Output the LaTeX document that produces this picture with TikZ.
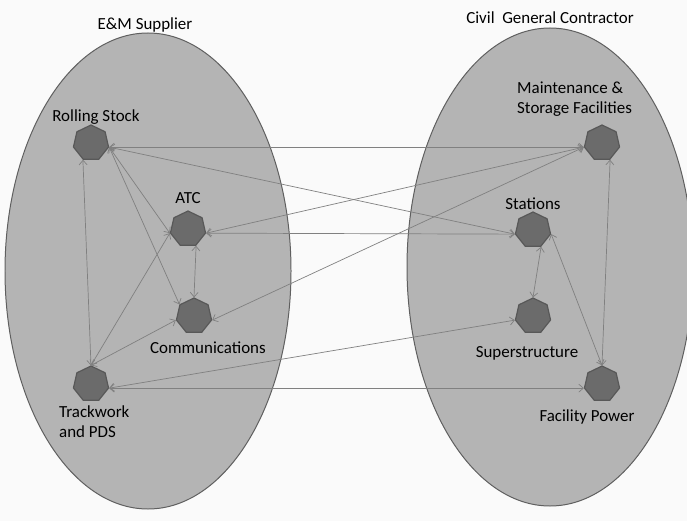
\documentclass[tikz,border=0pt]{standalone}
\usepackage{fontspec}
\setmainfont{Carlito}
\usetikzlibrary{shapes.geometric,arrows.meta}

\definecolor{groupfill}{RGB}{180,180,180}
\definecolor{groupline}{RGB}{95,95,95}
\definecolor{partfill}{RGB}{107,107,107}
\definecolor{partline}{RGB}{88,88,88}
\definecolor{linkline}{RGB}{128,128,128}

\tikzset{
  group/.style={ellipse,fill=groupfill,draw=groupline,line width=1pt},
  part/.style={regular polygon,regular polygon sides=7,minimum size=36bp,
    inner sep=0pt,fill=partfill,draw=partline,line width=1.2pt},
  txt/.style={font=\fontsize{17}{20}\selectfont,inner sep=0pt},
  link/.style={draw=linkline,line width=0.7pt,
    {Straight Barb[length=4.5bp,width=8bp]}-{Straight Barb[length=4.5bp,width=8bp]}}
}

\begin{document}
\begin{tikzpicture}[x=1bp,y=-1bp]
 \fill[white!98!black] (0,0) rectangle (687,521);
 \useasboundingbox (0,0) rectangle (687,521);

 \draw[group] (148,271) ellipse [x radius=143,y radius=238];
 \draw[group] (550,267) ellipse [x radius=143,y radius=239];

 \node[txt] (emsup) at (145,25) {E\&M Supplier};
 \node[txt] (civil) at (550,18) {Civil\ \ General Contractor};

 \node[part] (rs)   at (91,143)  {};
 \node[part] (atc)  at (188,229) {};
 \node[part] (comm) at (194,316) {};
 \node[part] (tw)   at (91,384)  {};
 \node[part] (msf)  at (602,143) {};
 \node[part] (sta)  at (533,230) {};
 \node[part] (sup)  at (533,316) {};
 \node[part] (fp)   at (602,384) {};

 \node[txt] (rslab)   at (96,117)  {Rolling Stock};
 \node[txt] (atclab)  at (188,198) {ATC};
 \node[txt] (commlab) at (208,348) {Communications};
 \node[txt,align=left,anchor=west] (twlab) at (59,422) {Trackwork\\and PDS};
 \node[txt,align=left,anchor=west] (msflab) at (517,99) {Maintenance \&\\Storage Facilities};
 \node[txt] (stalab)  at (533,204) {Stations};
 \node[txt] (suplab)  at (527,353) {Superstructure};
 \node[txt] (fplab)   at (587,417) {Facility Power};

 \draw[link] (rs.corner 6) -- (msf.corner 3);
 \draw[link] (rs.corner 6) -- (sta.corner 3);
 \draw[link] (rs.corner 6) -- (atc.corner 3);
 \draw[link] (rs.corner 6) -- (comm.corner 2);
 \draw[link] (rs.corner 4) -- (tw.corner 1);
 \draw[link] (atc.corner 6) -- (msf.corner 3);
 \draw[link] (atc.corner 6) -- (sta.corner 3);
 \draw[link] (atc.corner 5) -- (comm.corner 1);
 \draw[link] (tw.corner 1) -- (atc.corner 3);
 \draw[link] (tw.corner 1) -- (comm.corner 3);
 \draw[link] (comm.corner 6) -- (msf.corner 3);
 \draw[link] (tw.corner 6) -- (sup.corner 3);
 \draw[link] (tw.corner 6) -- (fp.corner 3);
 \draw[link] (sta.corner 5) -- (sup.corner 1);
 \draw[link] (sta.corner 6) -- (fp.corner 1);
 \draw[link] (msf.corner 5) -- (fp.corner 1);
\end{tikzpicture}
\end{document}
